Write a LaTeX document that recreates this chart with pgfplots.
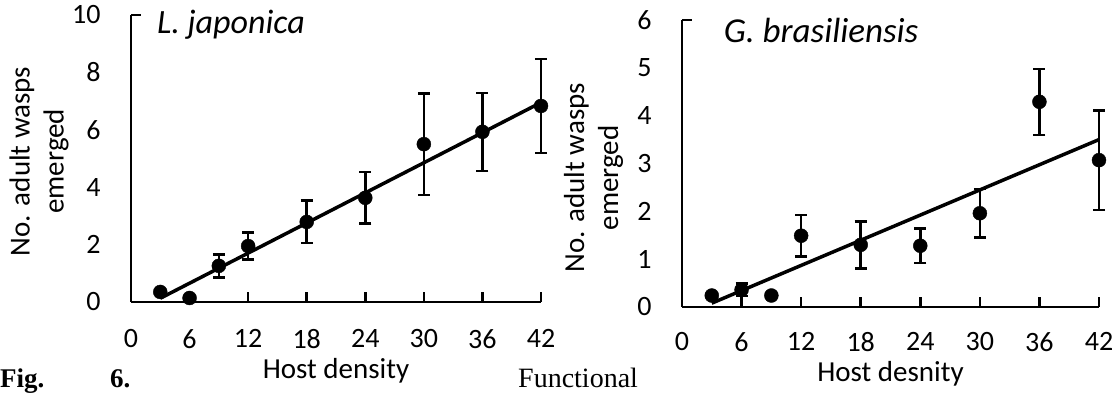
\documentclass[border=0pt]{standalone}
\usepackage{fontspec}
\setmainfont{Carlito}
\newfontfamily\serifF{Liberation Serif}
\usepackage{pgfplots}
\pgfplotsset{compat=1.18}
\begin{document}
\begin{tikzpicture}[font=\fontsize{29}{34}\selectfont]
\path[use as bounding box] (0pt,0pt) rectangle (1117pt,393pt);
\pgfplotsset{
  mystyle/.style={
    scale only axis,
    axis x line=bottom, axis y line=left,
    axis line style={-, line width=2.5pt},
    tick align=inside,
    major tick length=10pt,
    xtick style={black, line width=2.5pt},
    ytick style={draw=none},
    extra tick style={ytick style={draw=black, line width=2.5pt}, major tick length=10pt},
    xmin=0, xmax=42, xtick={0,6,...,42},
    clip=false,
    /pgf/number format/assume math mode=true,
    tick label style={font=\fontsize{28}{32}\selectfont},
    xticklabel style={anchor=north, yshift=-24pt},
    yticklabel style={anchor=east, xshift=-27pt},
    xlabel style={at={(axis description cs:0.5,0)}, anchor=base},
    ylabel style={anchor=center, align=center},
  },
  pts/.style={black, only marks, mark=*, mark size=7pt,
    error bars/.cd, y dir=both, y explicit,
    error bar style={line width=2.5pt, black},
    error mark options={rotate=90, mark size=6pt, line width=2.5pt, black}},
}
% Left chart
\begin{axis}[mystyle, at={(131pt,91pt)}, anchor=south west,
  width=410pt, height=287pt,
  ymin=0, ymax=10, ytick={0,2,...,10},
  extra y ticks={10}, extra y tick labels={},
  xlabel={Host density}, xlabel style={yshift=-77pt},
  ylabel={No. adult wasps\\emerged},
  ylabel style={at={(axis description cs:-0.224,0.49)}}]
\addplot[black, line width=3.5pt] coordinates {(3,0.13) (42,6.95)};
\addplot[pts] coordinates {
 (3,0.35) +- (0,0)
 (6,0.14) +- (0,0)
 (9,1.26) +- (0,0.40)
 (12,1.95) +- (0,0.47)
 (18,2.79) +- (0,0.74)
 (24,3.63) +- (0,0.90)
 (30,5.50) +- (0,1.77)
 (36,5.93) +- (0,1.36)
 (42,6.83) +- (0,1.63)
};
\node[anchor=base west, inner sep=0pt, font=\fontsize{34}{38}\selectfont\itshape] at (axis description cs:0.063,0.935) {L. japonica};
\end{axis}
% Right chart
\begin{axis}[mystyle, at={(682pt,86pt)}, anchor=south west,
  width=417pt, height=287pt,
  ymin=0, ymax=6, ytick={0,1,...,6},
  extra y ticks={6}, extra y tick labels={},
  xticklabel style={yshift=2pt},
  xlabel={Host desnity}, xlabel style={yshift=-75pt},
  ylabel={No. adult wasps\\emerged},
  ylabel style={at={(axis description cs:-0.212,0.45)}}]
\addplot[black, line width=3.5pt] coordinates {(3,0.08) (42,3.50)};
\addplot[pts] coordinates {
 (3,0.24) +- (0,0)
 (6,0.36) +- (0,0.13)
 (9,0.24) +- (0,0.05)
 (12,1.49) +- (0,0.43)
 (18,1.30) +- (0,0.49)
 (24,1.28) +- (0,0.36)
 (30,1.96) +- (0,0.51)
 (36,4.29) +- (0,0.69)
 (42,3.07) +- (0,1.04)
};
\node[anchor=base west, inner sep=0pt, font=\fontsize{35}{39}\selectfont\itshape] at (axis description cs:0.10,0.92) {G. brasiliensis};
\end{axis}
\node[anchor=base west, font=\serifF\bfseries\fontsize{27}{32}\selectfont, inner sep=0pt] at (0pt,5pt) {Fig.};
\node[anchor=base west, font=\serifF\bfseries\fontsize{27}{32}\selectfont, inner sep=0pt] at (110pt,5pt) {6.};
\node[anchor=base west, font=\serifF\fontsize{28}{32}\selectfont, inner sep=0pt] at (518pt,5pt) {Functional};
\end{tikzpicture}
\end{document}
